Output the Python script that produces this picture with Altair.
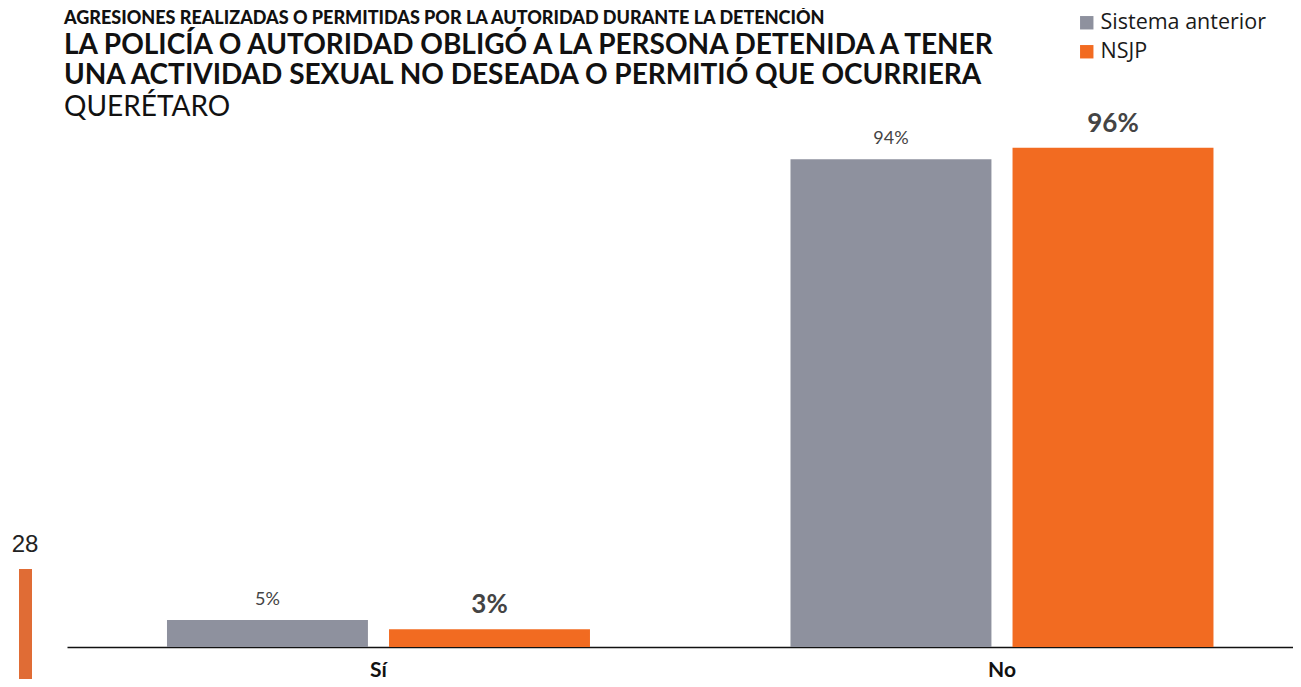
import altair as alt
import pandas as pd

categories = ["Sí", "Sí", "No", "No"]
series = ["Sistema anterior", "NSJP", "Sistema anterior", "NSJP"]
values = [5.2, 3.4, 93.8, 96.0]
labels = ["5%", "3%", "94%", "96%"]

series_order = ["Sistema anterior", "NSJP"]
series_colors = ["#8E919E", "#F26B21"]
cat_order = ["Sí", "No"]

header_lines = [
    "AGRESIONES REALIZADAS O PERMITIDAS POR LA AUTORIDAD DURANTE LA DETENCIÓN",
    "LA POLICÍA O AUTORIDAD OBLIGÓ A LA PERSONA DETENIDA A TENER",
    "UNA ACTIVIDAD SEXUAL NO DESEADA O PERMITIÓ QUE OCURRIERA",
    "QUERÉTARO",
]
page_number = "28"

df = pd.DataFrame({"cat": categories, "serie": series, "valor": values, "etiqueta": labels})

FONT = "Lato"
W, H = 1226, 520

x_enc = alt.X("cat:N", sort=cat_order, title=None,
              scale=alt.Scale(paddingInner=0.3216, paddingOuter=0.14395, align=0.557),
              axis=alt.Axis(labelFont=FONT, labelFontSize=21, labelFontWeight="bold",
                            labelColor="#111111", labelPadding=12, labelAngle=0,
                            ticks=False, domainColor="#111111", domainWidth=1.6,
                            grid=False))
xoff = alt.XOffset("serie:N", sort=series_order,
                   scale=alt.Scale(paddingInner=0.095, paddingOuter=0))
y_enc = alt.Y("valor:Q", scale=alt.Scale(domain=[0, 100]), axis=None)

base = alt.Chart(df)

bars = base.mark_bar().encode(
    x=x_enc, xOffset=xoff, y=y_enc,
    color=alt.Color("serie:N", sort=series_order,
                    scale=alt.Scale(domain=series_order, range=series_colors),
                    legend=alt.Legend(orient="none", legendX=1009, legendY=-115,
                                      title=None, symbolType="square", symbolSize=180,
                                      symbolStrokeWidth=0, labelFont="Open Sans",
                                      labelFontSize=21.5, labelColor="#1a1a1a",
                                      labelLimit=0, rowPadding=6, labelOffset=3,
                                      padding=0)),
)

txt_old = base.transform_filter(alt.datum.serie == "Sistema anterior").mark_text(
    font=FONT, fontSize=18, color="#444444", baseline="alphabetic", dy=-15
).encode(x=x_enc, xOffset=xoff, y=y_enc, text="etiqueta:N")

txt_new = base.transform_filter(alt.datum.serie == "NSJP").mark_text(
    font=FONT, fontSize=26, fontWeight="bold", color="#444444", baseline="alphabetic", dy=-16
).encode(x=x_enc, xOffset=xoff, y=y_enc, text="etiqueta:N")

hdr = pd.DataFrame({"t": header_lines})
h1 = alt.Chart(hdr).transform_filter(alt.datum.t == header_lines[0]).mark_text(
    font=FONT, fontSize=18, fontWeight=900, color="#111111", align="left", baseline="alphabetic"
).encode(x=alt.value(-3), y=alt.value(-103.5), text="t:N")
h2 = alt.Chart(hdr).transform_filter(alt.datum.t == header_lines[1]).mark_text(
    font=FONT, fontSize=28, fontWeight="bold", color="#111111", align="left", baseline="alphabetic"
).encode(x=alt.value(-3), y=alt.value(-73), text="t:N")
h3 = alt.Chart(hdr).transform_filter(alt.datum.t == header_lines[2]).mark_text(
    font=FONT, fontSize=28, fontWeight="bold", color="#111111", align="left", baseline="alphabetic"
).encode(x=alt.value(-3), y=alt.value(-43), text="t:N")
h4 = alt.Chart(hdr).transform_filter(alt.datum.t == header_lines[3]).mark_text(
    font=FONT, fontSize=28, color="#111111", align="left", baseline="alphabetic"
).encode(x=alt.value(-3), y=alt.value(-11), text="t:N")

pg = pd.DataFrame({"p": [page_number]})
pnum = alt.Chart(pg).mark_text(
    font="Liberation Sans", fontSize=24, color="#222222", align="center", baseline="middle"
).encode(x=alt.value(-42), y=alt.value(418), text="p:N")
strip = alt.Chart(pg).mark_rule(color="#E06C35", strokeWidth=13, strokeCap="butt").encode(
    x=alt.value(-41.5), y=alt.value(442), y2=alt.value(560))

chart = alt.layer(bars, txt_old, txt_new, h1, h2, h3, h4, pnum, strip).properties(
    width=W, height=H,
    background="white",
    autosize=alt.AutoSizeParams(type="none"),
    padding={"left": 59, "top": 119, "right": 0, "bottom": 32},
).configure_view(strokeWidth=0, stroke=None)

chart.save("out.html", embed_options={"renderer": "svg", "actions": False})
